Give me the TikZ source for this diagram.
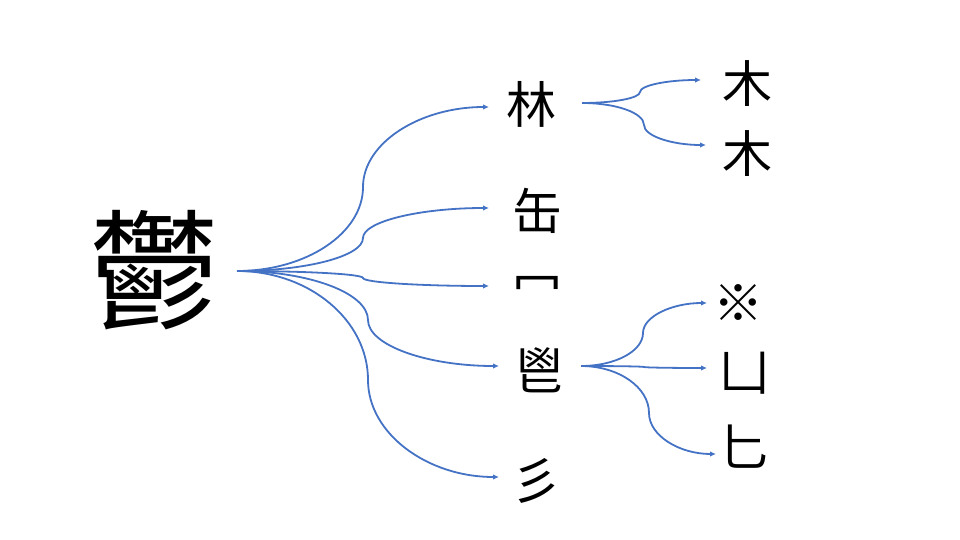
\documentclass[tikz,border=0pt]{standalone}
\usepackage{fontspec}
\newfontfamily\cjk{Noto Sans CJK TC}
\usetikzlibrary{arrows.meta,calc}
\definecolor{conblue}{HTML}{4472C4}
\tikzset{
  conn/.style={draw=conblue, line width=1.8pt, -{Latex[length=6pt,width=5.5pt]}},
  big/.style={font=\cjk\fontsize{130}{130}\selectfont, inner sep=0pt},
  part/.style={font=\cjk\fontsize{50}{50}\selectfont, inner sep=0pt},
}
\newcommand\bracecurve[3]{%
  \draw[conn] let \p1=(#1), \p2=(#2), \p3=(#3) in
    (\p1) .. controls ({\x1+0.55*(\x2-\x1)},\y1) and (\x2,{\y2+0.55*(\y1-\y2)}) .. (\p2)
          .. controls (\x2,{\y2+0.55*(\y3-\y2)}) and ({\x3-0.55*(\x3-\x2)},\y3) .. (\p3);}
\begin{document}
\begin{tikzpicture}[x=1pt,y=-1pt]
\useasboundingbox (0,0) rectangle (960,540);
% nodes
\node[big]  (yu)   at (154,270) {鬱};
\node[part] (lin)  at (531,104) {林};
\node[part] (fou)  at (537,211) {缶};
\node[part] (mi)   at (537,290) {冖};
\node[part] (chang) at (539,370) {鬯};
\node[part] (shan) at (536,481) {彡};
\node[part] (mu1)  at (747,84)  {木};
\node[part] (mu2)  at (747,154) {木};
\node[part] (mi2)  at (738,303) {※};
\node[part] (kan)  at (744,373) {凵};
\node[part] (bi)   at (743,447) {匕};
% connector ends
\coordinate (s)  at (237,271);
\coordinate (b1) at (363,187); \coordinate (e1) at (489,107);
\coordinate (b2) at (363,238); \coordinate (e2) at (489,208);
\coordinate (b3) at (363,278); \coordinate (e3) at (489,286);
\coordinate (b4) at (368,320); \coordinate (e4) at (499,366);
\coordinate (b5) at (368,380); \coordinate (e5) at (499,477);
\coordinate (s2) at (582,103);
\coordinate (c1) at (640,92);  \coordinate (f1) at (701,80);
\coordinate (c2) at (644,125); \coordinate (f2) at (706,145);
\coordinate (s3) at (581,366);
\coordinate (d1) at (643,333); \coordinate (g1) at (707,303);
\coordinate (d2) at (644,367); \coordinate (g2) at (707,368);
\coordinate (d3) at (649,413); \coordinate (g3) at (716,454);
% connectors
\bracecurve{s}{b1}{e1}
\bracecurve{s}{b2}{e2}
\bracecurve{s}{b3}{e3}
\bracecurve{s}{b4}{e4}
\bracecurve{s}{b5}{e5}
\bracecurve{s2}{c1}{f1}
\bracecurve{s2}{c2}{f2}
\bracecurve{s3}{d1}{g1}
\bracecurve{s3}{d2}{g2}
\bracecurve{s3}{d3}{g3}
\end{tikzpicture}
\end{document}
